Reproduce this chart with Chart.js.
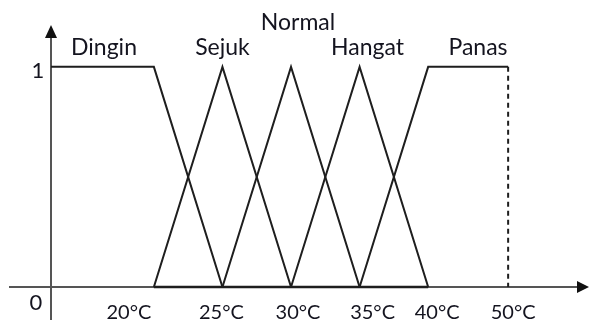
<!DOCTYPE html>
<html lang="en">
<head>
<meta charset="UTF-8" />
<title>Fungsi Keanggotaan Suhu</title>
<script src="https://cdn.jsdelivr.net/npm/chart.js"></script>
<style>
  html, body { margin: 0; padding: 0; background: #fff; }
  #wrap { width: 590px; height: 327px; }
</style>
</head>
<body>
<div id="wrap"><canvas id="fuzzyChart" width="590" height="327"></canvas></div>
<script>
// membership sets (x in °C, y = degree of membership)
const setNames = ['Dingin', 'Sejuk', 'Normal', 'Hangat', 'Panas'];
const dinginX = [12.5, 20, 25];
const dinginY = [1, 1, 0];
const sejukX = [20, 25, 30];
const sejukY = [0, 1, 0];
const normalX = [25, 30, 35];
const normalY = [0, 1, 0];
const hangatX = [30, 35, 40];
const hangatY = [0, 1, 0];
const panasX = [35, 40, 50];
const panasY = [0, 1, 1];
const panasEdgeX = [50, 50];
const panasEdgeY = [1, 0];
const baseX = [20, 40];
const baseY = [0, 0];
const xTicks = [20, 25, 30, 35, 40, 50];
const yTicks = [0, 1];

const LINE = '#1e1e1e';
const AXIS = '#555555';
const TEXT = '#14141f';
const FONT = 'Lato, "Open Sans", sans-serif';

// x axis is drawn squeezed after 40°C, like the original sketch
class BrokenScale extends Chart.LinearScale {
  static id = 'broken';
  static defaults = Chart.LinearScale.defaults;
  getPixelForValue(v) {
    return super.getPixelForValue(v > 40 ? 40 + (v - 40) * 0.583 : v);
  }
}
Chart.register(BrokenScale);

function pts(xs, ys) {
  return xs.map((x, i) => ({ x: x, y: ys[i] }));
}

const sets = [
  pts(dinginX, dinginY),
  pts(sejukX, sejukY),
  pts(normalX, normalY),
  pts(hangatX, hangatY),
  pts(panasX, panasY)
];

const datasets = sets.map((d, i) => ({
  label: setNames[i],
  data: d,
  borderColor: LINE,
  borderWidth: 2,
  pointRadius: 0,
  showLine: true,
  tension: 0
}));
datasets.push({
  label: 'Panas batas',
  data: pts(panasEdgeX, panasEdgeY),
  borderColor: LINE,
  borderWidth: 2,
  borderDash: [5, 4],
  pointRadius: 0,
  showLine: true
});
datasets.push({
  label: 'dasar',
  data: pts(baseX, baseY),
  borderColor: LINE,
  borderWidth: 2.4,
  pointRadius: 0,
  showLine: true
});

// the tick labels in the sketch sit a little off their points
const tickNudge = { 20: -25, 25: -1, 30: 7, 35: 13, 40: 9, 50: 5 };

const axesPlugin = {
  id: 'axesPlugin',
  beforeDatasetsDraw(chart) {
    const ctx = chart.ctx;
    const x = chart.scales.x, y = chart.scales.y;
    const x0 = x.getPixelForValue(x.min);
    const y0 = y.getPixelForValue(0);
    ctx.save();
    ctx.strokeStyle = AXIS;
    ctx.fillStyle = '#111';
    ctx.lineWidth = 2;
    // horizontal axis
    ctx.beginPath();
    ctx.moveTo(9, y0);
    ctx.lineTo(580, y0);
    ctx.stroke();
    ctx.beginPath();
    ctx.moveTo(589, y0);
    ctx.lineTo(577, y0 - 6);
    ctx.lineTo(577, y0 + 6);
    ctx.closePath();
    ctx.fill();
    // vertical axis
    ctx.beginPath();
    ctx.moveTo(x0, 320);
    ctx.lineTo(x0, 36);
    ctx.stroke();
    ctx.beginPath();
    ctx.moveTo(x0, 25);
    ctx.lineTo(x0 - 6, 38);
    ctx.lineTo(x0 + 6, 38);
    ctx.closePath();
    ctx.fill();
    ctx.restore();
  },
  afterDraw(chart) {
    const ctx = chart.ctx;
    const x = chart.scales.x, y = chart.scales.y;
    const x0 = x.getPixelForValue(x.min);
    ctx.save();
    ctx.fillStyle = TEXT;
    ctx.textAlign = 'center';
    ctx.textBaseline = 'middle';
    ctx.font = '20px ' + FONT;
    xTicks.forEach(t => {
      ctx.fillText(t + '°C', x.getPixelForValue(t) + (tickNudge[t] || 0), 313);
    });
    ctx.font = '22px ' + FONT;
    ctx.fillText(String(yTicks[1]), x0 - 13, y.getPixelForValue(yTicks[1]) + 4);
    ctx.fillText(String(yTicks[0]), x0 - 15, y.getPixelForValue(yTicks[0]) + 16);
    // set names above their shapes
    ctx.font = '23px ' + FONT;
    const top = y.getPixelForValue(1);
    ctx.fillText(setNames[0], 104, top - 19);
    ctx.fillText(setNames[1], x.getPixelForValue(25), top - 19);
    ctx.fillText(setNames[2], x.getPixelForValue(30) + 7, top - 44);
    ctx.fillText(setNames[3], x.getPixelForValue(35) + 8, top - 19);
    ctx.fillText(setNames[4], 478, top - 19);
    ctx.restore();
  }
};

new Chart(document.getElementById('fuzzyChart'), {
  type: 'scatter',
  data: { datasets: datasets },
  options: {
    responsive: false,
    animation: false,
    layout: { padding: { left: 51, right: 10, top: 25, bottom: 7 } },
    plugins: { legend: { display: false }, tooltip: { enabled: false } },
    scales: {
      x: { type: 'broken', min: 12.5, max: 51.07, display: false },
      y: { type: 'linear', min: -0.15, max: 1.19, display: false }
    }
  },
  plugins: [axesPlugin]
});
</script>
</body>
</html>
